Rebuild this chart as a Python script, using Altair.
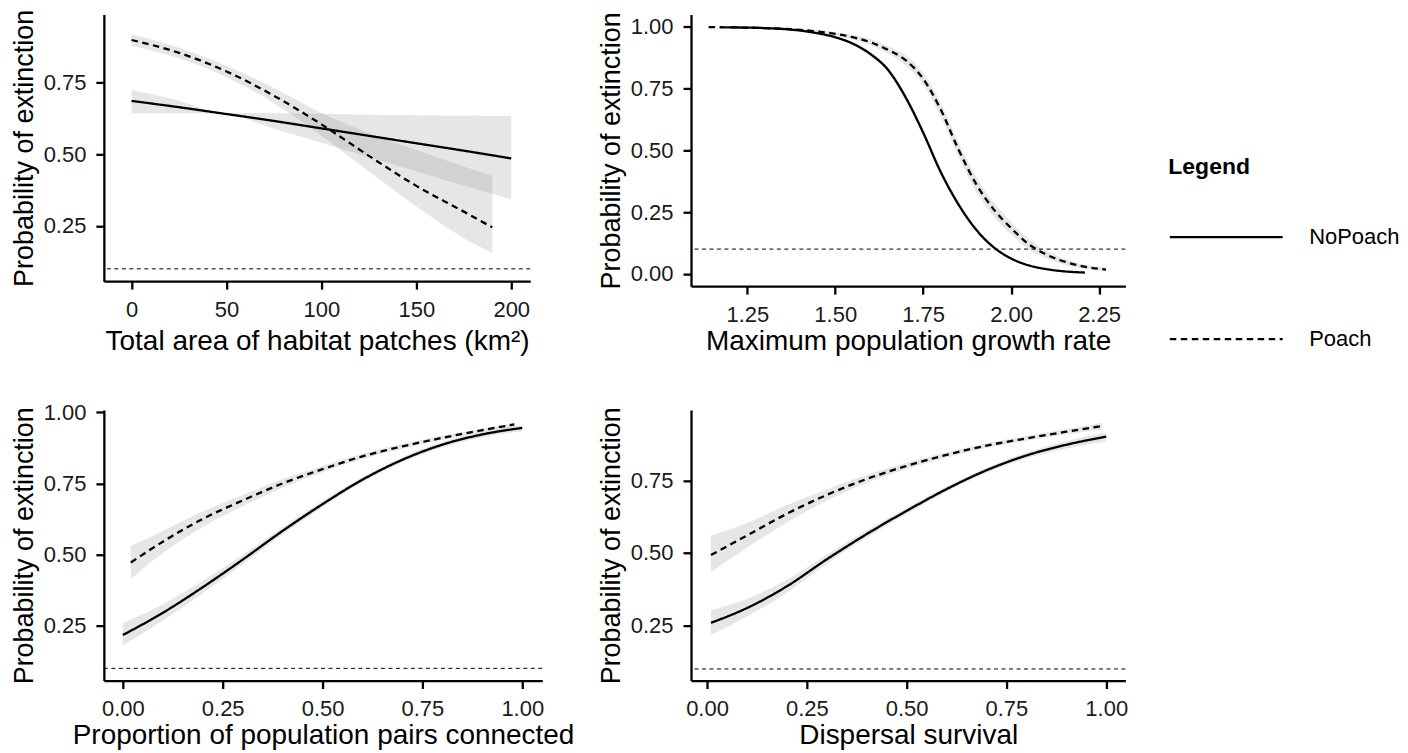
import altair as alt
import pandas as pd

# ---------------- data ----------------
# Panel 1: Total area of habitat patches (km2)
p1_x_np = [0, 25, 48, 75, 100, 125, 150, 175, 200]
p1_fit_np = [0.687, 0.665, 0.643, 0.617, 0.591, 0.565, 0.539, 0.513, 0.486]
p1_lo_np = [0.644, 0.643, 0.642, 0.590, 0.541, 0.491, 0.441, 0.391, 0.342]
p1_hi_np = [0.725, 0.688, 0.645, 0.644, 0.642, 0.639, 0.637, 0.636, 0.635]
p1_x_p = [0, 25, 50, 75, 100, 125, 150, 175, 190]
p1_fit_p = [0.900, 0.855, 0.790, 0.705, 0.605, 0.495, 0.390, 0.300, 0.245]
p1_lo_p = [0.880, 0.836, 0.770, 0.680, 0.565, 0.440, 0.318, 0.208, 0.155]
p1_hi_p = [0.920, 0.873, 0.810, 0.732, 0.645, 0.575, 0.515, 0.458, 0.425]

# Panel 2: Maximum population growth rate
p2_x_np = [1.19, 1.30, 1.40, 1.45, 1.50, 1.55, 1.60, 1.65, 1.70, 1.75, 1.80, 1.85, 1.90, 1.95, 2.00, 2.05, 2.10, 2.15, 2.21]
p2_fit_np = [0.998, 0.995, 0.985, 0.974, 0.958, 0.932, 0.890, 0.826, 0.715, 0.572, 0.412, 0.282, 0.180, 0.108, 0.062, 0.034, 0.019, 0.010, 0.005]
p2_lo_np = [0.997, 0.993, 0.982, 0.970, 0.953, 0.926, 0.881, 0.815, 0.702, 0.559, 0.399, 0.270, 0.170, 0.100, 0.056, 0.030, 0.016, 0.008, 0.004]
p2_hi_np = [0.999, 0.997, 0.988, 0.978, 0.963, 0.938, 0.899, 0.837, 0.728, 0.585, 0.425, 0.294, 0.190, 0.116, 0.068, 0.038, 0.022, 0.012, 0.006]
p2_x_p = [1.14, 1.20, 1.30, 1.40, 1.45, 1.50, 1.55, 1.60, 1.65, 1.70, 1.75, 1.80, 1.85, 1.90, 1.95, 2.00, 2.05, 2.10, 2.15, 2.20, 2.27]
p2_fit_p = [0.999, 0.998, 0.995, 0.988, 0.981, 0.972, 0.958, 0.938, 0.907, 0.865, 0.790, 0.665, 0.505, 0.365, 0.262, 0.185, 0.120, 0.078, 0.050, 0.031, 0.017]
p2_lo_p = [0.998, 0.997, 0.993, 0.984, 0.976, 0.965, 0.950, 0.926, 0.892, 0.845, 0.767, 0.637, 0.475, 0.335, 0.233, 0.160, 0.099, 0.062, 0.038, 0.022, 0.010]
p2_hi_p = [1.000, 0.999, 0.997, 0.992, 0.986, 0.979, 0.966, 0.950, 0.922, 0.885, 0.813, 0.693, 0.535, 0.395, 0.291, 0.210, 0.141, 0.094, 0.062, 0.040, 0.025]

# Panel 3: Proportion of population pairs connected
p3_x_np = [0.0, 0.1, 0.2, 0.3, 0.4, 0.5, 0.6, 0.7, 0.8, 0.9, 1.0]
p3_fit_np = [0.217, 0.295, 0.385, 0.482, 0.583, 0.677, 0.763, 0.833, 0.886, 0.922, 0.945]
p3_lo_np = [0.180, 0.268, 0.364, 0.466, 0.570, 0.667, 0.754, 0.824, 0.877, 0.912, 0.933]
p3_hi_np = [0.258, 0.325, 0.408, 0.499, 0.596, 0.688, 0.772, 0.842, 0.895, 0.931, 0.954]
p3_x_p = [0.02, 0.1, 0.2, 0.3, 0.4, 0.5, 0.6, 0.7, 0.8, 0.9, 0.98]
p3_fit_p = [0.472, 0.545, 0.625, 0.690, 0.750, 0.800, 0.845, 0.880, 0.910, 0.937, 0.957]
p3_lo_p = [0.414, 0.505, 0.597, 0.670, 0.735, 0.789, 0.836, 0.872, 0.903, 0.930, 0.950]
p3_hi_p = [0.530, 0.583, 0.651, 0.709, 0.765, 0.811, 0.854, 0.888, 0.917, 0.943, 0.963]

# Panel 4: Dispersal survival
p4_x_np = [0.01, 0.1, 0.2, 0.3, 0.4, 0.5, 0.6, 0.7, 0.8, 0.9, 1.0]
p4_fit_np = [0.259, 0.310, 0.385, 0.478, 0.565, 0.645, 0.720, 0.785, 0.836, 0.873, 0.901]
p4_lo_np = [0.218, 0.281, 0.363, 0.463, 0.553, 0.635, 0.711, 0.776, 0.826, 0.860, 0.885]
p4_hi_np = [0.302, 0.341, 0.408, 0.494, 0.578, 0.655, 0.729, 0.794, 0.846, 0.885, 0.915]
p4_x_p = [0.01, 0.1, 0.2, 0.3, 0.4, 0.5, 0.6, 0.7, 0.8, 0.9, 0.99]
p4_fit_p = [0.493, 0.560, 0.635, 0.700, 0.755, 0.800, 0.838, 0.870, 0.895, 0.918, 0.938]
p4_lo_p = [0.434, 0.518, 0.605, 0.680, 0.741, 0.789, 0.829, 0.862, 0.887, 0.909, 0.926]
p4_hi_p = [0.559, 0.603, 0.665, 0.720, 0.769, 0.811, 0.847, 0.878, 0.903, 0.927, 0.949]

groups = ["NoPoach", "Poach"]
ref_level = [0.1]
y_title = "Probability of extinction"

FONT = "Liberation Sans"


def make_df(xn, fn, ln, hn, xp, fp, lp, hp):
    a = pd.DataFrame({"x": xn, "fit": fn, "lo": ln, "hi": hn, "group": groups[0]})
    b = pd.DataFrame({"x": xp, "fit": fp, "lo": lp, "hi": hp, "group": groups[1]})
    return pd.concat([a, b], ignore_index=True)


def panel(df, xdom, ydom, w, h, xtitle, xticks, xfmt, yticks, xtpad=2):
    xs = alt.Scale(domain=xdom, nice=False, zero=False)
    ys = alt.Scale(domain=ydom, nice=False, zero=False)
    xax = alt.Axis(values=xticks, format=xfmt, title=xtitle, titlePadding=xtpad)
    yax = alt.Axis(values=yticks, format=".2f", title=y_title)
    base = alt.Chart(df)
    ribbon = base.mark_area(color="#808080", opacity=0.2, interpolate="monotone").encode(
        x=alt.X("x:Q", scale=xs, axis=xax),
        y=alt.Y("lo:Q", scale=ys, axis=yax),
        y2="hi:Q",
        detail="group:N",
    )
    ref = alt.Chart(pd.DataFrame({"r": ref_level})).mark_rule(
        color="black", strokeWidth=1, strokeDash=[4, 3.5]
    ).encode(y=alt.Y("r:Q", scale=ys))
    line = base.mark_line(color="black", strokeWidth=2.3, interpolate="monotone").encode(
        x=alt.X("x:Q", scale=xs),
        y=alt.Y("fit:Q", scale=ys),
        strokeDash=alt.StrokeDash(
            "group:N",
            scale=alt.Scale(domain=groups, range=[[1, 0], [6.5, 4.5]]),
            legend=alt.Legend(
                title="Legend",
                orient="none",
                legendX=1066,
                legendY=142,
                symbolType="stroke",
                symbolSize=12769,
                symbolStrokeWidth=2.3,
                symbolStrokeColor="black",
                labelFontSize=22,
                labelFont=FONT,
                labelColor="black",
                labelOffset=25,
                titleFontSize=23,
                titleFont=FONT,
                titleFontWeight="bold",
                titleColor="black",
                titlePadding=0,
                rowPadding=33,
                padding=0,
            ),
        ),
    )
    return alt.layer(ribbon, ref, line).properties(width=w, height=h)


df1 = make_df(p1_x_np, p1_fit_np, p1_lo_np, p1_hi_np, p1_x_p, p1_fit_p, p1_lo_p, p1_hi_p)
df2 = make_df(p2_x_np, p2_fit_np, p2_lo_np, p2_hi_np, p2_x_p, p2_fit_p, p2_lo_p, p2_hi_p)
df3 = make_df(p3_x_np, p3_fit_np, p3_lo_np, p3_hi_np, p3_x_p, p3_fit_p, p3_lo_p, p3_hi_p)
df4 = make_df(p4_x_np, p4_fit_np, p4_lo_np, p4_hi_np, p4_x_p, p4_fit_p, p4_lo_p, p4_hi_p)

c1 = panel(df1, [-14.6, 210], [0.057, 0.989], 427, 267,
           "Total area of habitat patches (km²)", [0, 50, 100, 150, 200], "d",
           [0.25, 0.5, 0.75], xtpad=7)
c2 = panel(df2, [1.09, 2.325], [-0.05, 1.05], 435, 272,
           "Maximum population growth rate", [1.25, 1.5, 1.75, 2.0, 2.25], ".2f",
           [0.0, 0.25, 0.5, 0.75, 1.0])
c3 = panel(df3, [-0.0475, 1.05], [0.057, 1.008], 439, 271,
           "Proportion of population pairs connected", [0, 0.25, 0.5, 0.75, 1.0], ".2f",
           [0.25, 0.5, 0.75, 1.0])
c4 = panel(df4, [-0.04, 1.048], [0.06, 0.993], 435, 271,
           "Dispersal survival", [0, 0.25, 0.5, 0.75, 1.0], ".2f",
           [0.25, 0.5, 0.75])

chart = (
    alt.concat(c1, c2, c3, c4, columns=2, spacing={"row": 46, "column": 23})
    .resolve_scale(x="independent", y="independent", strokeDash="shared")
    .properties(padding={"left": 2, "top": 0, "right": 0, "bottom": 0})
    .configure_view(stroke=None)
    .configure_axis(
        grid=False,
        domainColor="black",
        domainWidth=2.3,
        tickColor="black",
        tickWidth=2.3,
        tickSize=8,
        labelFont=FONT,
        labelFontSize=22,
        labelColor="#1a1a1a",
        labelPadding=10,
        titleFont=FONT,
        titleFontSize=28,
        titleFontWeight="normal",
        titleColor="black",
    )
    .configure_axisY(titlePadding=5, titleFontSize=27)
    .configure_legend(padding=0)
)

chart.save("out.html", embed_options={"renderer": "svg", "actions": False})
